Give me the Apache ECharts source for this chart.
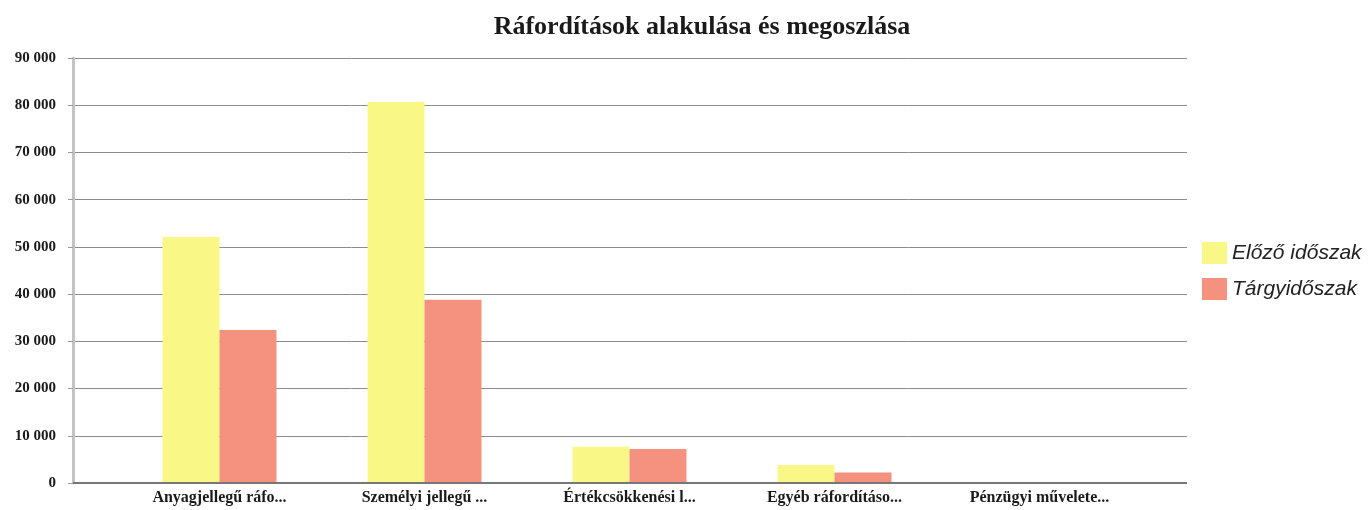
<!DOCTYPE html>
<html><head><meta charset="utf-8">
<script src="https://cdn.jsdelivr.net/npm/echarts@6/dist/echarts.min.js"></script>
<style>html,body{margin:0;padding:0;background:#fff}#c{width:1370px;height:510px}</style>
</head><body><div id="c"></div>
<script>
const categories = ['Anyagjellegű ráfo...', 'Személyi jellegű ...', 'Értékcsökkenési l...', 'Egyéb ráfordításo...', 'Pénzügyi művelete...'];
const previousPeriod = [52100, 80700, 7700, 3800, 0];
const currentPeriod = [32400, 38800, 7200, 2200, 0];
const seriesNames = ['Előző időszak', 'Tárgyidőszak'];
const yTicks = [0, 10000, 20000, 30000, 40000, 50000, 60000, 70000, 80000, 90000];

const fmt = v => v === 0 ? '0' : String(v).replace(/\B(?=(\d{3})+(?!\d))/g, ' ');
const serif = '"Liberation Serif", "DejaVu Serif", serif';
const chart = echarts.init(document.getElementById('c'));
chart.setOption({
  animation: false,
  backgroundColor: '#ffffff',
  title: {
    text: 'Ráfordítások alakulása és megoszlása', left: 697, top: 9, textAlign: 'center',
    textStyle: { fontFamily: serif, fontWeight: 'bold', fontSize: 26, color: '#1a1a1a' }
  },
  legend: {
    orient: 'vertical', left: 1197, top: 237, itemWidth: 25, itemHeight: 22, itemGap: 14,
    icon: 'rect', data: seriesNames,
    textStyle: { fontFamily: '"Liberation Sans", Arial, sans-serif', fontStyle: 'italic', fontSize: 21, color: '#222' }
  },
  grid: [
    { left: 73, right: 183, top: 58, bottom: 27, containLabel: false, outerBoundsMode: 'none' },
    { left: 117, right: 228, top: 58, bottom: 27, containLabel: false, outerBoundsMode: 'none' }
  ],
  xAxis: [
    { type: 'category', gridIndex: 0, data: categories, show: false },
    {
      type: 'category', gridIndex: 1, data: categories,
      axisLine: { show: false }, axisTick: { show: false },
      axisLabel: { fontFamily: serif, fontWeight: 'bold', fontSize: 16, color: '#1a1a1a', margin: 7, interval: 0 }
    }
  ],
  yAxis: [
    {
      type: 'value', gridIndex: 0, min: 0, max: 90000, interval: 10000,
      axisLine: { show: true, lineStyle: { color: '#c4c4c4', width: 3 } },
      axisTick: { show: true, length: 5, lineStyle: { color: '#999' } },
      axisLabel: { fontFamily: serif, fontWeight: 'bold', fontSize: 15, color: '#1a1a1a', margin: 17,
        formatter: v => yTicks.includes(v) ? fmt(v) : '' },
      splitLine: { show: true, lineStyle: { color: '#8c8c8c', width: 1 } }
    },
    { type: 'value', gridIndex: 1, min: 0, max: 90000, interval: 10000, show: false, splitLine: { show: false } }
  ],
  series: [
    {
      name: seriesNames[0], type: 'bar', xAxisIndex: 1, yAxisIndex: 1, data: previousPeriod,
      barWidth: 57, barGap: '0%', itemStyle: { color: '#f9f786' }
    },
    {
      name: seriesNames[1], type: 'bar', xAxisIndex: 1, yAxisIndex: 1, data: currentPeriod,
      barWidth: 57, barGap: '0%', itemStyle: { color: '#f4927f' }
    },
    {
      type: 'line', xAxisIndex: 0, yAxisIndex: 0, data: [], silent: true,
      markLine: { silent: true, symbol: 'none', label: { show: false },
        lineStyle: { color: '#777', width: 2, type: 'solid' }, data: [{ yAxis: 0 }] }
    }
  ]
});
</script></body></html>
